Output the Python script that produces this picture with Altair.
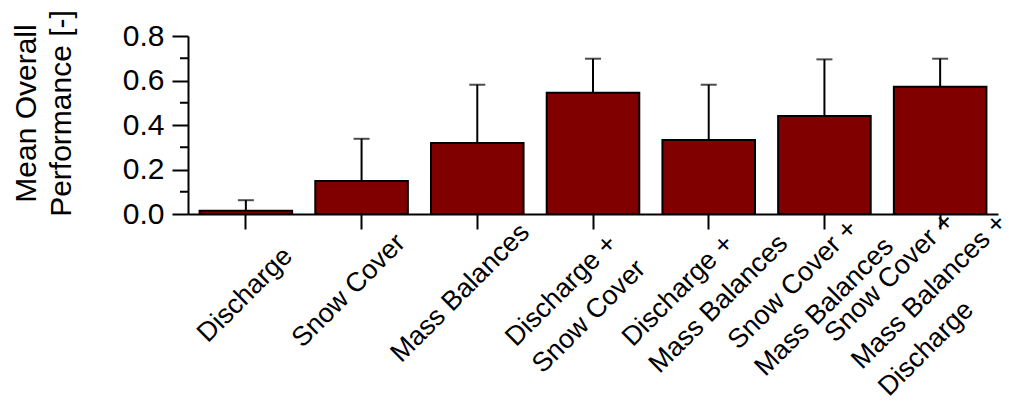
import json
import altair as alt
import pandas as pd

# ---- data ----
categories = [
    "Discharge",
    "Snow Cover",
    "Mass Balances",
    "Discharge +\nSnow Cover",
    "Discharge +\nMass Balances",
    "Snow Cover +\nMass Balances",
    "Snow Cover +\nMass Balances +\nDischarge",
]
mean_perf = [0.015, 0.148, 0.319, 0.545, 0.333, 0.441, 0.572]
upper_err = [0.062, 0.338, 0.581, 0.698, 0.581, 0.695, 0.698]
y_major = [0.0, 0.2, 0.4, 0.6, 0.8]
y_minor = [0.1, 0.3, 0.5, 0.7]

# ---- label placement (style): start of first line relative to tick ----
label_dx = [-38, -59, -76, -77, -76, -86, -105]
label_dy = [129, 134, 149, 133, 133, 136, 129]

FONT = "Liberation Sans"
X_TICK = 15

df = pd.DataFrame({"cat": categories, "mean": mean_perf, "upper": upper_err})
minor_df = pd.DataFrame({"v": y_minor})


def per_label(vals, default):
    return {
        "condition": [
            {"test": f"datum.value === {json.dumps(c)}", "value": v}
            for c, v in zip(categories, vals)
        ],
        "value": default,
    }


x_axis = alt.Axis(
    title=None,
    labelExpr="split(datum.label, '\\n')",
    labelAngle=315,
    labelAlign="left",
    labelBaseline="alphabetic",
    labelFont=FONT,
    labelFontSize=27,
    labelColor="black",
    labelLineHeight=38,
    labelLimit=0,
    labelOverlap=False,
    labelBound=False,
    labelFlush=False,
    labelOffset=per_label(label_dx, 0),
    labelPadding=per_label([d - X_TICK for d in label_dy], 110),
    tickSize=X_TICK,
    tickWidth=2,
    tickColor="black",
    domainWidth=2,
    domainColor="black",
    grid=False,
)

y_axis = alt.Axis(
    values=y_major,
    format=".1f",
    tickSize=16,
    tickWidth=2,
    tickColor="black",
    domainWidth=2,
    domainColor="black",
    labelFont=FONT,
    labelFontSize=30,
    labelColor="black",
    labelPadding=8,
    title=["Mean Overall", "Performance [-]"],
    titleFont=FONT,
    titleFontSize=30,
    titleFontWeight="normal",
    titleColor="black",
    titleAngle=270,
    titleAlign="center",
    titleBaseline="alphabetic",
    titleLineHeight=35,
    titleX=-153,
    titleY=77,
    grid=False,
)

x_enc = alt.X(
    "cat:N",
    sort=categories,
    scale=alt.Scale(paddingInner=0.2, paddingOuter=0.1),
    axis=x_axis,
)
y_scale = alt.Scale(domain=[0, 0.8], nice=False, zero=True)

base = alt.Chart(df)

err_lines = base.mark_rule(color="black", strokeWidth=2).encode(
    x=x_enc,
    y=alt.Y("mean:Q", scale=y_scale, axis=y_axis),
    y2="upper:Q",
)

bars = base.mark_bar(color="#800000", stroke="black", strokeWidth=2).encode(
    x=x_enc,
    y=alt.Y("mean:Q", scale=y_scale, axis=y_axis),
)

caps = base.mark_tick(color="black", thickness=2, size=16).encode(
    x=x_enc,
    y=alt.Y("upper:Q", scale=y_scale, axis=y_axis),
)

minor_ticks = alt.Chart(minor_df).mark_rule(color="black", strokeWidth=2).encode(
    y=alt.Y("v:Q", scale=y_scale, axis=y_axis),
    x=alt.value(-8),
    x2=alt.value(0),
)

chart = (
    alt.layer(err_lines, bars, caps, minor_ticks)
    .properties(
        width=810,
        height=178,
        autosize="none",
        padding={"left": 180, "top": 28, "right": 13, "bottom": 190},
    )
    .configure_view(stroke="transparent")
)

chart.save("out.html", embed_options={"renderer": "svg", "actions": False})
